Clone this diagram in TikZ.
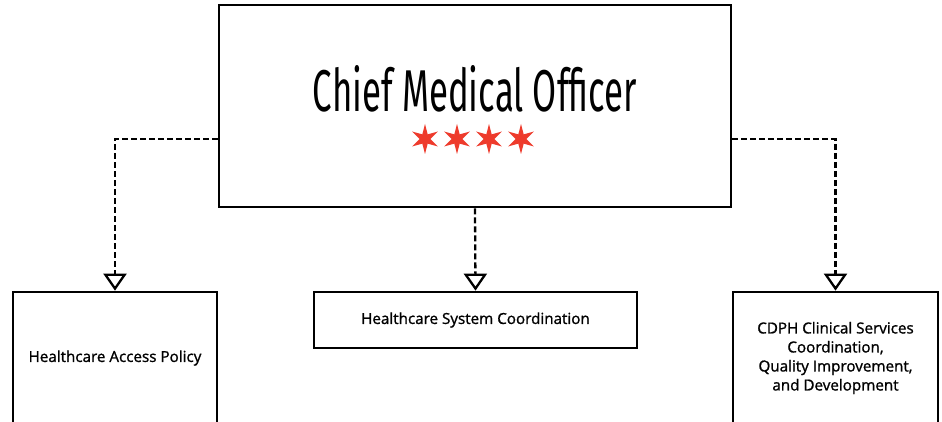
\documentclass[tikz,border=0pt]{standalone}
\usepackage{fontspec}
\setmainfont{Open Sans}
\newfontfamily\titlefont{Fira Sans}
\usetikzlibrary{arrows.meta,shapes.geometric}
\definecolor{starred}{HTML}{EE3B2C}
\tikzset{
  box/.style={draw=black, line width=2.7pt, fill=white, inner sep=0pt, align=center,
    font=\fontsize{15.2}{19}\selectfont\addfontfeature{FakeBold=1.2}},
  conn/.style={line width=2.3pt, dash pattern=on 6pt off 3pt,
    -{Triangle[open, length=17pt, width=23pt, line width=2.3pt, fill=white]}},
  chistar/.style={star, star points=6, star point ratio=2.8, fill=starred, draw=none,
    minimum size=30pt, inner sep=0pt}
}
\begin{document}
\begin{tikzpicture}[x=1pt, y=-1pt]
\useasboundingbox (0,0) rectangle (942,422);
\clip (0,0) rectangle (942,422);
\node[box, minimum width=512pt, minimum height=202pt] (top) at (475,106) {};
\node[inner sep=0pt] (title) at (475,89) {\resizebox{324pt}{46pt}{\titlefont Chief Medical Officer}};
\node[chistar] (s1) at (425,139) {};
\node[chistar] (s2) at (457,139) {};
\node[chistar] (s3) at (489,139) {};
\node[chistar] (s4) at (521,139) {};
\node[box, minimum width=204pt, minimum height=132pt] (left) at (115,358) {Healthcare Access Policy};
\node[box, minimum width=323pt, minimum height=56pt] (mid) at (475.5,320) {Healthcare System Coordination};
\node[box, minimum width=205pt, minimum height=132pt] (right) at (835.5,358) {CDPH Clinical Services\\Coordination,\\Quality Improvement,\\and Development};
\draw[conn] ([yshift=-33pt]top.west) -| (left.north);
\draw[conn] (top.south) -- (mid.north);
\draw[conn] ([yshift=-33pt]top.east) -| (right.north);
\end{tikzpicture}
\end{document}
